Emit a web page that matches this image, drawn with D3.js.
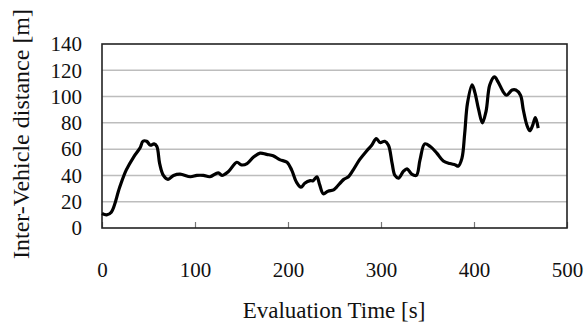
<!DOCTYPE html>
<html>
<head>
<meta charset="utf-8">
<script src="https://cdn.jsdelivr.net/npm/d3@7"></script>
<style>
  body { margin: 0; background: #fff; }
</style>
</head>
<body>
<div id="chart"></div>
<script>
// Evaluation time [s] and inter-vehicle distance [m]
const times = [0, 5, 10, 19, 26, 34, 41, 44, 48, 52, 56, 59, 62, 66, 71, 77, 84, 95, 102, 109, 116, 125, 129, 136,
  145, 150, 156, 163, 170, 177, 184, 191, 199, 204, 209, 214, 218, 224, 227, 231, 234, 238, 243, 249, 252, 260,
  265, 270, 277, 285, 290, 295, 299, 304, 308, 312, 315, 319, 324, 328, 333, 338, 342, 347, 353, 360, 367, 374,
  380, 383, 387, 390, 393, 398, 401, 405, 409, 413, 417, 422, 426, 432, 435, 441, 445, 450, 453, 457, 460, 463,
  466, 469];
const distances = [11, 10, 12, 31, 44, 54, 61, 66, 66, 63, 64, 62, 49, 40, 37, 40, 41, 39, 40, 40, 39, 42, 40, 43,
  50, 48, 49, 54, 57, 56, 55, 52, 50, 44, 35, 31, 34, 36, 36, 39, 33, 26, 28, 29, 31, 37,
  39, 44, 52, 59, 63, 68, 65, 66, 63, 49, 40, 38, 43, 45, 41, 40, 52, 64, 62, 57, 51, 49,
  48, 47, 53, 72, 95, 109, 103, 90, 80, 89, 109, 115, 111, 103, 101, 105, 105, 101,
  90, 78, 74, 78, 84, 76];
const xTicks = [0, 100, 200, 300, 400, 500];
const yTicks = [0, 20, 40, 60, 80, 100, 120, 140];

const width = 586, height = 324;
const margin = { top: 44, right: 19, bottom: 96, left: 102 };
const serif = '"Liberation Serif", "Times New Roman", serif';

const x = d3.scaleLinear().domain([0, 500]).range([margin.left, width - margin.right]);
const y = d3.scaleLinear().domain([0, 140]).range([height - margin.bottom, margin.top]);

const svg = d3.select("#chart")
  .append("svg")
  .attr("width", width)
  .attr("height", height);

// Horizontal gridlines
svg.append("g")
  .selectAll("line")
  .data(yTicks.filter(d => d > 0 && d < 140))
  .join("line")
  .attr("x1", x(0))
  .attr("x2", x(500))
  .attr("y1", d => y(d))
  .attr("y2", d => y(d))
  .attr("stroke", "#bdbdbd")
  .attr("stroke-width", 1.5);

// Y axis labels
const yAxis = svg.append("g")
  .attr("transform", `translate(${x(0)},0)`)
  .call(d3.axisLeft(y).tickValues(yTicks).tickSize(0).tickPadding(20));
yAxis.select(".domain").remove();
yAxis.selectAll("text")
  .style("font-family", serif)
  .style("font-size", "21px")
  .attr("fill", "#111");

// X axis labels with small inside ticks
const xAxis = svg.append("g")
  .attr("transform", `translate(0,${y(0)})`)
  .call(d3.axisBottom(x).tickValues(xTicks).tickSize(0).tickPadding(34));
xAxis.select(".domain").remove();
xAxis.selectAll("text")
  .style("font-family", serif)
  .style("font-size", "21px")
  .attr("fill", "#111");
xAxis.selectAll(".tick line")
  .attr("y2", -6)
  .attr("stroke", "#777")
  .attr("stroke-width", 1.2);

// Plot frame
svg.append("rect")
  .attr("x", x(0))
  .attr("y", y(140))
  .attr("width", x(500) - x(0))
  .attr("height", y(0) - y(140))
  .attr("fill", "none")
  .attr("stroke", "#222")
  .attr("stroke-width", 1.6);

// Data line
const line = d3.line()
  .x((d, i) => x(times[i]))
  .y(d => y(d))
  .curve(d3.curveCatmullRom.alpha(0.5));

svg.append("path")
  .datum(distances)
  .attr("d", line)
  .attr("fill", "none")
  .attr("stroke", "#000")
  .attr("stroke-width", 3.2)
  .attr("stroke-linejoin", "round");

// Axis titles
svg.append("text")
  .attr("x", 334)
  .attr("y", 318)
  .attr("text-anchor", "middle")
  .style("font-family", serif)
  .style("font-size", "23px")
  .attr("fill", "#111")
  .text("Evaluation Time [s]");

svg.append("text")
  .attr("transform", "translate(29,134) rotate(-90)")
  .attr("text-anchor", "middle")
  .style("font-family", serif)
  .style("font-size", "24px")
  .attr("fill", "#111")
  .text("Inter-Vehicle distance [m]");
</script>
</body>
</html>
